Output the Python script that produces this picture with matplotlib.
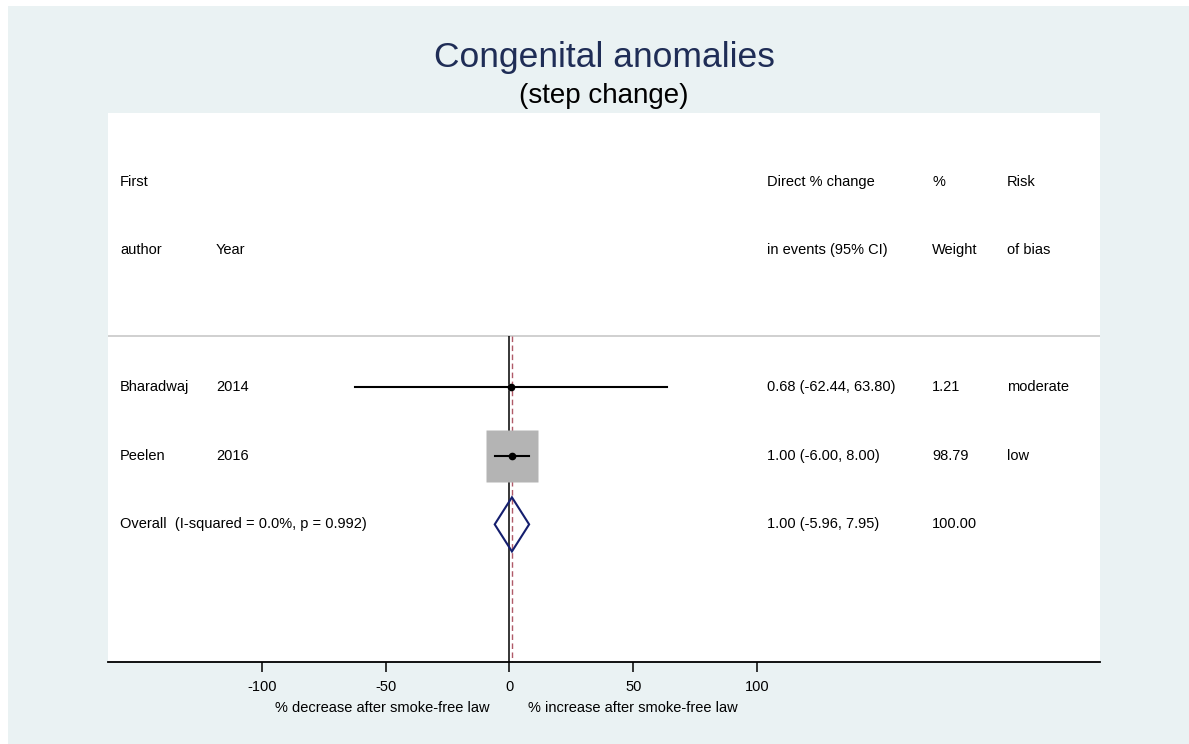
import matplotlib
matplotlib.use("Agg")
import matplotlib.pyplot as plt
from matplotlib.patches import Rectangle, Polygon
from matplotlib import transforms
import numpy as np

plt.rcParams['font.family'] = ['Liberation Sans', 'DejaVu Sans']

# study data
authors = ["Bharadwaj", "Peelen"]
years = ["2014", "2016"]
est = [0.68, 1.00]
ci_lo = [-62.44, -6.00]
ci_hi = [63.80, 8.00]
weights = [1.21, 98.79]
risk = ["moderate", "low"]

# pooled estimate
overall_est = 1.00
overall_lo = -5.96
overall_hi = 7.95
overall_label = "Overall  (I-squared = 0.0%, p = 0.992)"

xticks = [-100, -50, 0, 50, 100]

bg = '#eaf2f3'
fs = 10.5

fig = plt.figure(figsize=(11.89, 7.44), dpi=100)
fig.patch.set_facecolor('white')
fig.patches.append(Rectangle((8 / 1189, -0.05), 2, 1.05 - 6 / 744, transform=fig.transFigure,
                             facecolor=bg, edgecolor='none', zorder=-10))

ax = fig.add_axes([108 / 1189, 82.5 / 744, 992 / 1189, 548.5 / 744])
ax.set_facecolor('white')
ax.set_xlim(-162.2, 238.6)
ax.set_ylim(5.0, -3.0)

for s in ['top', 'left', 'right']:
    ax.spines[s].set_visible(False)
ax.spines['bottom'].set_linewidth(1.3)
ax.set_yticks([])
ax.set_xticks(xticks)
ax.set_xticklabels([str(t) for t in xticks], fontsize=fs)
ax.tick_params(axis='x', length=7.5, width=1.1, pad=6)

sep_y = 0.255
ax.axhline(sep_y, color='#c8c8c8', lw=1.2, zorder=1)

# reference lines: null effect and pooled estimate
ax.vlines(0, sep_y, 5.0, color='black', lw=1.1, zorder=2)
ax.vlines(overall_est, sep_y, 5.0, color='#b05a68', lw=1.0,
          linestyles=(0, (4, 2.5)), zorder=2)

rows = np.arange(1, len(authors) + 1)
maxw = max(weights)
for r, e, lo, hi, w in zip(rows, est, ci_lo, ci_hi, weights):
    ms = 37.4 * np.sqrt(w / maxw)
    ax.plot(e, r, marker='s', ms=ms, color='#b4b4b4', mec='none', zorder=3)
    ax.plot([lo, hi], [r, r], color='black', lw=1.5, zorder=4)
    ax.plot(e, r, marker='o', ms=4.5, color='black', zorder=5)

orow = len(authors) + 1
h = 0.395
diamond = Polygon([(overall_lo, orow), (overall_est, orow - h),
                   (overall_hi, orow), (overall_est, orow + h)],
                  closed=True, facecolor='none', edgecolor='#141e6e', lw=1.5, zorder=6)
ax.add_patch(diamond)

# text columns
tr = transforms.blended_transform_factory(ax.transAxes, ax.transData)
col_author = 0.0121
col_year = 0.1089
col_est = 0.6643
col_w = 0.831
col_risk = 0.9064

def txt(x, y, s):
    ax.text(x, y, s, transform=tr, fontsize=fs, va='center', ha='left', color='black')

txt(col_author, -2, "First")
txt(col_author, -1, "author")
txt(col_year, -1, "Year")
txt(col_est, -2, "Direct % change")
txt(col_est, -1, "in events (95% CI)")
txt(col_w, -2, "%")
txt(col_w, -1, "Weight")
txt(col_risk, -2, "Risk")
txt(col_risk, -1, "of bias")

for r, a, yr, e, lo, hi, w, rk in zip(rows, authors, years, est, ci_lo, ci_hi, weights, risk):
    txt(col_author, r, a)
    txt(col_year, r, yr)
    txt(col_est, r, f"{e:.2f} ({lo:.2f}, {hi:.2f})")
    txt(col_w, r, f"{w:.2f}")
    txt(col_risk, r, rk)

txt(col_author, orow, overall_label)
txt(col_est, orow, f"{overall_est:.2f} ({overall_lo:.2f}, {overall_hi:.2f})")
txt(col_w, orow, "100.00")

# x-axis caption
ax.annotate("% decrease after smoke-free law", xy=(0, 0), xycoords=('data', 'axes fraction'),
            xytext=(-14, -33.5), textcoords='offset points', ha='right', va='center', fontsize=fs)
ax.annotate("% increase after smoke-free law", xy=(0, 0), xycoords=('data', 'axes fraction'),
            xytext=(13, -33.5), textcoords='offset points', ha='left', va='center', fontsize=fs)

# titles
fig.text(604 / 1189, 1 - 67 / 744, "Congenital anomalies", ha='center', va='baseline',
         fontsize=25.5, color='#1f2d56')
fig.text(604 / 1189, 1 - 103 / 744, "(step change)", ha='center', va='baseline',
         fontsize=20, color='black')

fig.savefig("out.png", dpi=100, facecolor=fig.get_facecolor())
